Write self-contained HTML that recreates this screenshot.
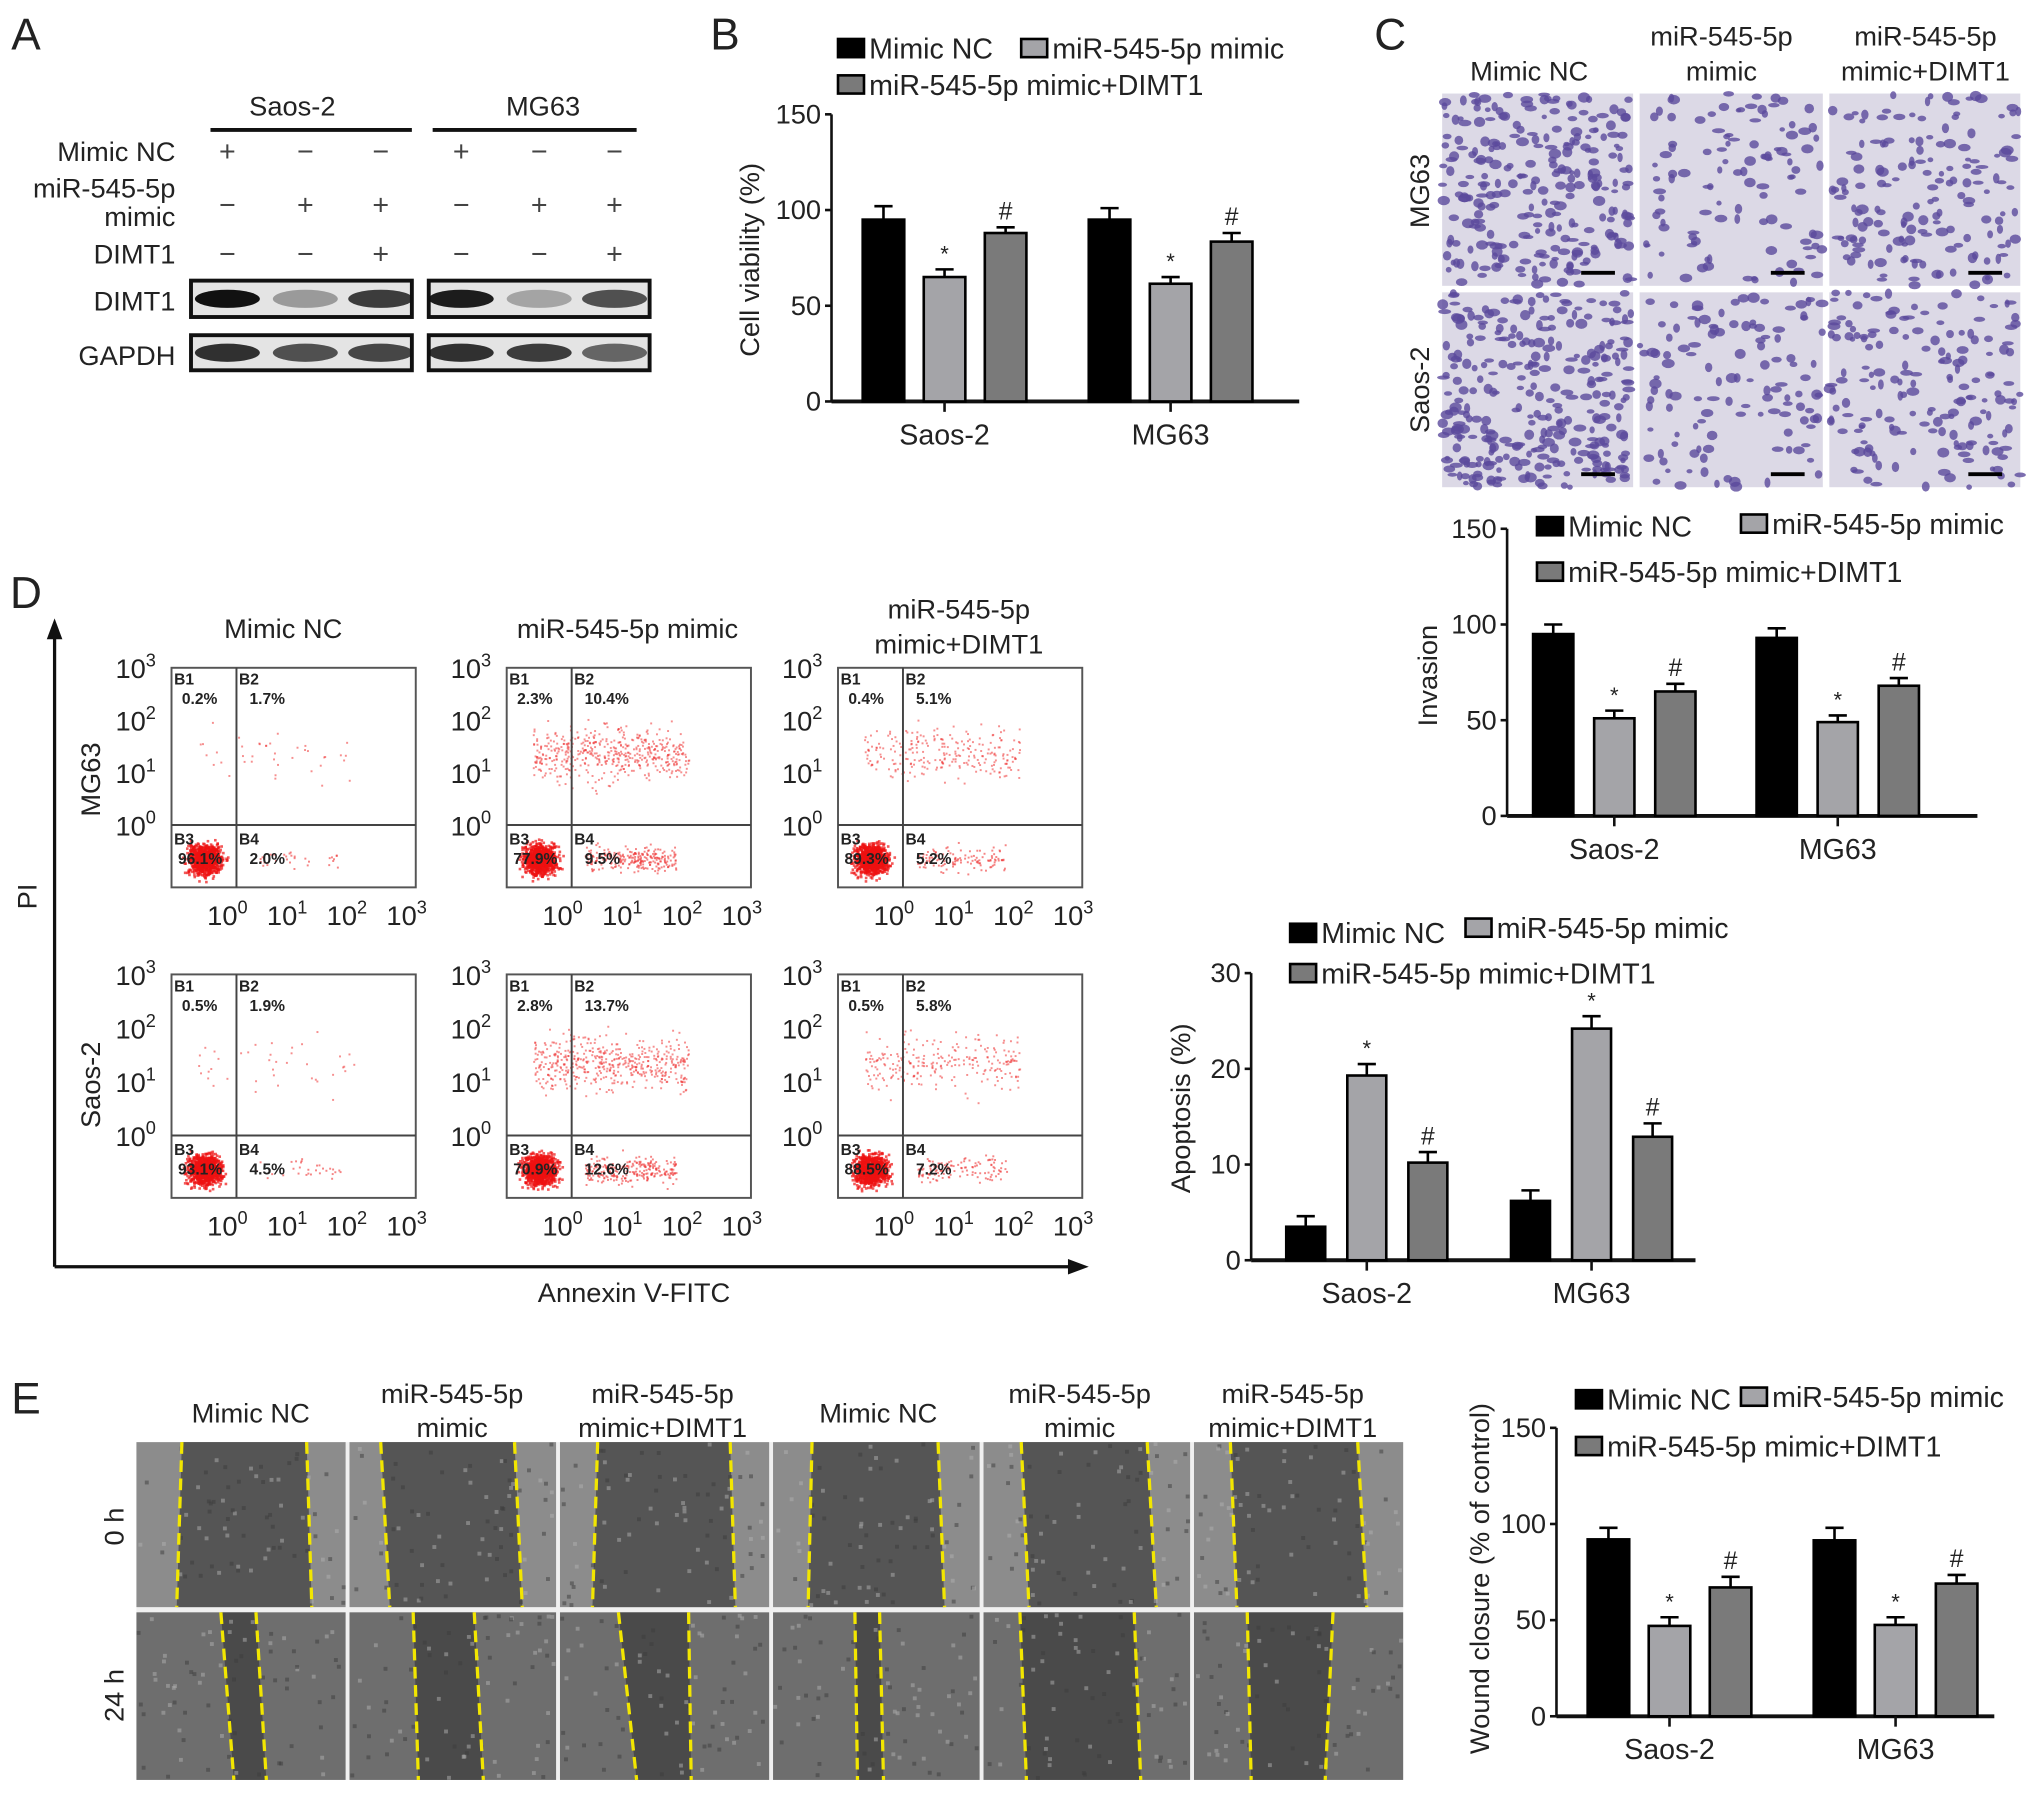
<!DOCTYPE html>
<html><head><meta charset="utf-8"><style>
html,body{margin:0;padding:0;background:#fff;}
svg{display:block;font-family:"Liberation Sans",Arial,sans-serif;}
</style></head><body>
<svg id="fig" width="2032" height="1795" viewBox="0 0 1564 1381.6" xmlns="http://www.w3.org/2000/svg">
<g id="root"></g>
</svg>
<script>
// ---- Chart data ----
const groups = ["Saos-2", "MG63"];
const seriesNames = ["Mimic NC", "miR-545-5p mimic", "miR-545-5p mimic+DIMT1"];
const viabilityVals = [[95, 65, 88], [95, 61.5, 83.5]];
const viabilityErr = [[7, 4, 3], [6, 3.5, 4.5]];
const invasionVals = [[95, 51, 65], [93, 49, 68]];
const invasionErr = [[5, 4, 4], [5, 3.5, 4]];
const apoptosisVals = [[3.5, 19.3, 10.2], [6.2, 24.2, 12.9]];
const apoptosisErr = [[1.1, 1.2, 1.1], [1.1, 1.3, 1.4]];
const woundVals = [[92, 47, 67], [91.5, 47.5, 69]];
const woundErr = [[6, 4.5, 5.5], [6.5, 4, 4.5]];
const ticks150 = [0, 50, 100, 150];
const ticks30 = [0, 10, 20, 30];
const flowLabels = [
  ["0.2%","1.7%","96.1%","2.0%"],["2.3%","10.4%","77.9%","9.5%"],["0.4%","5.1%","89.3%","5.2%"],
  ["0.5%","1.9%","93.1%","4.5%"],["2.8%","13.7%","70.9%","12.6%"],["0.5%","5.8%","88.5%","7.2%"]
];
const fills = ["#000000", "#a4a4a8", "#7a7a7a"];

const NS = "http://www.w3.org/2000/svg";
const root = document.getElementById("root");
function el(tag, attrs, parent, txt){
  const e = document.createElementNS(NS, tag);
  for (const k in attrs) e.setAttribute(k, attrs[k]);
  if (txt !== undefined) e.textContent = txt;
  (parent || root).appendChild(e);
  return e;
}
function text(x,y,s,size,anchor,parent,extra){
  const t = el("text", Object.assign({x:x,y:y,"font-size":size||21,"text-anchor":anchor||"middle",fill:"#222"}, extra||{}), parent, s);
  return t;
}
// seeded RNG for photo textures only
let seed = 12345;
function rnd(){ seed = (seed*1103515245+12345) % 2147483648; return seed/2147483648; }
function gauss(){ return (rnd()+rnd()+rnd()+rnd()-2)/1.2; }

// ---- Panel letters ----
[["A",20,38],["B",558,38],["C",1070,38],["D",20,468],["E",20,1088]].forEach(p=>{
  const t = text(p[1],p[2],p[0],34,"middle");
  
  
});

// ---- Bar chart ----
function barChart(cfg){
  const g = el("g", {});
  
  
  const y = v => cfg.y0 - (v - 0) * (cfg.y0 - cfg.yTop) / cfg.max;
  // legend
  cfg.legend.forEach((L,i)=>{
    const lg = el("g", {}, g);
    
    
    el("rect", {x:L[0], y:L[1]-8, width:20, height:14, fill:fills[i], stroke:"#000","stroke-width":2}, lg);
    text(L[0]+24, L[1]+7, seriesNames[i], 22, "start", lg);
  });
  // axes
  const ax = el("line", {x1:cfg.x0, y1:cfg.yTop, x2:cfg.x0, y2:cfg.y0, stroke:"#111","stroke-width":2}, g);
  
  
  const bx = el("line", {x1:cfg.x0, y1:cfg.y0, x2:cfg.xEnd, y2:cfg.y0, stroke:"#111","stroke-width":3}, g);
  
  
  cfg.ticks.forEach(t=>{
    el("line", {x1:cfg.x0-5, y1:y(t), x2:cfg.x0, y2:y(t), stroke:"#111","stroke-width":2}, g);
    const tl = text(cfg.x0-8, y(t)+7, String(t), 21, "end", g);
    
    
  });
  const yt = text(0,0,cfg.ytitle,21,"middle",g,{transform:`translate(${cfg.ytx},${cfg.yty}) rotate(-90)`});
  
  
  groups.forEach((gname,gi)=>{
    const gx = cfg.gStart + gi*cfg.gGap;
    cfg.vals[gi].forEach((v,si)=>{
      const bxp = gx + si*cfg.bStep;
      const top = y(v);
      const r = el("rect", {x:bxp, y:top, width:cfg.bw, height:cfg.y0-top, fill:fills[si], stroke:"#000","stroke-width":2}, g);
      
      
      const et = y(v + cfg.err[gi][si]);
      const cx = bxp + cfg.bw/2;
      el("line", {x1:cx, y1:top, x2:cx, y2:et, stroke:"#000","stroke-width":2}, g);
      el("line", {x1:cx-7, y1:et, x2:cx+7, y2:et, stroke:"#000","stroke-width":2}, g);
      if (si===1) text(cx, et-6, "*", 17, "middle", g);
      if (si===2) text(cx, et-6, "#", 19, "middle", g);
    });
    const cx = gx + cfg.bStep + cfg.bw/2;
    el("line", {x1:cx, y1:cfg.y0, x2:cx, y2:cfg.y0+8, stroke:"#111","stroke-width":2}, g);
    const xl = text(cx, cfg.y0+33, gname, 22, "middle", g);
    
    
  });
}
barChart({name:"viability-chart", vals:viabilityVals, err:viabilityErr, max:150, ticks:ticks150,
  x0:640, xEnd:1000, y0:309, yTop:88, gStart:664, gGap:174, bStep:47, bw:32,
  legend:[[645,38],[786,38],[645,66]], ytitle:"Cell viability (%)", ytx:584, yty:200});
barChart({name:"invasion-chart", vals:invasionVals, err:invasionErr, max:150, ticks:ticks150,
  x0:1160, xEnd:1522, y0:628, yTop:407, gStart:1180, gGap:172, bStep:47, bw:31,
  legend:[[1183,406],[1340,404],[1183,441]], ytitle:"Invasion", ytx:1106, yty:520});
barChart({name:"apoptosis-chart", vals:apoptosisVals, err:apoptosisErr, max:30, ticks:ticks30,
  x0:963, xEnd:1305, y0:970, yTop:749, gStart:990, gGap:173, bStep:47, bw:30,
  legend:[[993,719],[1128,715],[993,750]], ytitle:"Apoptosis (%)", ytx:916, yty:853});
barChart({name:"wound-closure-chart", vals:woundVals, err:woundErr, max:150, ticks:ticks150,
  x0:1198, xEnd:1535, y0:1321, yTop:1099, gStart:1222, gGap:174, bStep:47, bw:32,
  legend:[[1213,1078],[1340,1076],[1213,1114]], ytitle:"Wound closure (% of control)", ytx:1146, yty:1215});

// ---- Panel A: western blot ----
(function(){
  const g = el("g", {});
  
  
  text(225,89,"Saos-2",21,"middle",g); text(418,89,"MG63",21,"middle",g);
  el("line",{x1:162,y1:100,x2:317,y2:100,stroke:"#111","stroke-width":3},g);
  el("line",{x1:333,y1:100,x2:490,y2:100,stroke:"#111","stroke-width":3},g);
  text(135,124,"Mimic NC",21,"end",g);
  text(135,152,"miR-545-5p",21,"end",g); text(135,174,"mimic",21,"end",g);
  text(135,203,"DIMT1",21,"end",g);
  text(135,239,"DIMT1",21,"end",g); text(135,281,"GAPDH",21,"end",g);
  const cols=[175,235,293,355,415,473];
  const signs=[["+","−","−","+","−","−"],["−","+","+","−","+","+"],["−","−","+","−","−","+"]];
  const rows=[124,165,203];
  signs.forEach((r,ri)=>r.forEach((s,ci)=>text(cols[ci],rows[ri],s,22,"middle",g,{fill:"#444"})));
  const inten=[[1,0.35,0.8,0.95,0.3,0.7],[0.85,0.7,0.75,0.85,0.8,0.6]];
  [[216,244],[258,285]].forEach((b,bi)=>{
    [[147,317],[330,500]].forEach((bb,k)=>{
      el("rect",{x:bb[0],y:b[0],width:bb[1]-bb[0],height:b[1]-b[0],fill:"#e4e4e4",stroke:"#111","stroke-width":3},g);
      for(let j=0;j<3;j++){
        const ci=k*3+j, a=inten[bi][ci];
        el("ellipse",{cx:cols[ci],cy:(b[0]+b[1])/2,rx:25,ry:7,fill:"#111","fill-opacity":a},g);
      }
    });
  });
})();

// ---- Panel C: invasion images ----
(function(){
  const g = el("g", {});
  
  
  [[1177,["Mimic NC"]],[1325,["miR-545-5p","mimic"]],[1482,["miR-545-5p","mimic+DIMT1"]]].forEach(h=>{
    if(h[1].length===1) text(h[0],62,h[1][0],21,"middle",g);
    else { text(h[0],35,h[1][0],21,"middle",g); text(h[0],62,h[1][1],21,"middle",g); }
  });
  text(0,0,"MG63",21,"middle",g,{transform:"translate(1100,147) rotate(-90)"});
  text(0,0,"Saos-2",21,"middle",g,{transform:"translate(1100,300) rotate(-90)"});
  const xs=[[1110,1257],[1262,1403],[1408,1555]], ys=[[72,220],[225,375]];
  const dens=[[260,110,160],[300,120,170]];
  ys.forEach((yy,ri)=>xs.forEach((xx,ci)=>{
    el("rect",{x:xx[0],y:yy[0],width:xx[1]-xx[0],height:yy[1]-yy[0],fill:"#dcd9e6"},g);
    for(let i=0;i<dens[ri][ci];i++){
      el("ellipse",{cx:xx[0]+rnd()*(xx[1]-xx[0]),cy:yy[0]+rnd()*(yy[1]-yy[0]),rx:2+rnd()*3,ry:1.5+rnd()*2.5,fill:"#5b4a9c","fill-opacity":0.8},g);
    }
    el("line",{x1:xx[1]-40,y1:yy[1]-10,x2:xx[1]-14,y2:yy[1]-10,stroke:"#000","stroke-width":3},g);
  }));
})();

// ---- Panel D: flow cytometry ----
(function(){
  const g = el("g", {});
  
  
  text(218,491,"Mimic NC",21,"middle",g);
  text(483,491,"miR-545-5p mimic",21,"middle",g);
  text(738,476,"miR-545-5p",21,"middle",g); text(738,503,"mimic+DIMT1",21,"middle",g);
  text(0,0,"MG63",21,"middle",g,{transform:"translate(77,600) rotate(-90)"});
  text(0,0,"Saos-2",21,"middle",g,{transform:"translate(77,835) rotate(-90)"});
  text(0,0,"PI",21,"middle",g,{transform:"translate(28,690) rotate(-90)"});
  text(488,1002,"Annexin V-FITC",21,"middle",g);
  el("line",{x1:42,y1:975,x2:42,y2:488,stroke:"#111","stroke-width":2.5},g);
  el("polygon",{points:"42,476 36,492 48,492",fill:"#111"},g);
  el("line",{x1:42,y1:975,x2:825,y2:975,stroke:"#111","stroke-width":2.5},g);
  el("polygon",{points:"838,975 822,969 822,981",fill:"#111"},g);
  const bxs=[132,390,645], bys=[[514,683,635],[750,922,874]];
  const tickLbl=["10","10","10","10"];
  let idx=0;
  bys.forEach((by,ri)=>bxs.forEach((bx,ci)=>{
    const w=188, qx=bx+50, lab=flowLabels[idx++];
    const pg=el("g",{},g);
    
    
    el("rect",{x:bx,y:by[0],width:w,height:by[1]-by[0],fill:"#fff",stroke:"#555","stroke-width":1.5},pg);
    // dots
    const nMain = 900, nUp = ci===0?40:(ci===1?500:250), nRight= ci===0?30:(ci===1?250:120);
    for(let i=0;i<nMain;i++){
      const x=bx+25+gauss()*13, y=by[1]-22+gauss()*12;
      if(x>bx && y<by[1] && y>by[2]-5) el("rect",{x:x,y:y,width:2,height:2,fill:"#ee1111","fill-opacity":0.7},pg);
    }
    for(let i=0;i<nUp;i++){
      const x=bx+20+rnd()*120, y=by[2]-55+gauss()*22;
      el("rect",{x:x,y:y,width:1.5,height:1.5,fill:"#ee3333","fill-opacity":0.55},pg);
    }
    for(let i=0;i<nRight;i++){
      const x=qx+10+rnd()*70, y=by[1]-22+gauss()*10;
      if(y<by[1]) el("rect",{x:x,y:y,width:1.5,height:1.5,fill:"#ee3333","fill-opacity":0.6},pg);
    }
    el("line",{x1:qx,y1:by[0],x2:qx,y2:by[1],stroke:"#444","stroke-width":1.5},pg);
    el("line",{x1:bx,y1:by[2],x2:bx+w,y2:by[2],stroke:"#444","stroke-width":1.5},pg);
    text(bx+2,by[0]+13,"B1",12,"start",pg,{"font-weight":"bold"});
    text(qx+2,by[0]+13,"B2",12,"start",pg,{"font-weight":"bold"});
    text(bx+8,by[0]+28,lab[0],12,"start",pg,{"font-weight":"bold"});
    text(qx+10,by[0]+28,lab[1],12,"start",pg,{"font-weight":"bold"});
    text(bx+2,by[2]+15,"B3",12,"start",pg,{"font-weight":"bold"});
    text(qx+2,by[2]+15,"B4",12,"start",pg,{"font-weight":"bold"});
    text(bx+5,by[2]+30,lab[2],12,"start",pg,{"font-weight":"bold"});
    text(qx+10,by[2]+30,lab[3],12,"start",pg,{"font-weight":"bold"});
    // y ticks
    const yts=[by[0],by[0]+(by[2]-by[0])/3,by[0]+2*(by[2]-by[0])/3,by[2]];
    [3,2,1,0].forEach((e,k)=>{
      const t=el("text",{x:bx-12,y:yts[k]+8,"font-size":21,"text-anchor":"end",fill:"#222"},pg);
      t.appendChild(document.createTextNode("10"));
      const s=el("tspan",{dy:-9,"font-size":14},t,String(e));
    });
    [0,1,2,3].forEach(e=>{
      const t=el("text",{x:bx+43+e*46,y:by[1]+29,"font-size":21,"text-anchor":"middle",fill:"#222"},pg);
      t.appendChild(document.createTextNode("10"));
      el("tspan",{dy:-9,"font-size":14},t,String(e));
    });
  }));
})();

// ---- Panel E: wound images ----
(function(){
  const g = el("g", {});
  
  
  const hdr=[[193,["Mimic NC"]],[348,["miR-545-5p","mimic"]],[510,["miR-545-5p","mimic+DIMT1"]],[676,["Mimic NC"]],[831,["miR-545-5p","mimic"]],[995,["miR-545-5p","mimic+DIMT1"]]];
  hdr.forEach(h=>{
    if(h[1].length===1) text(h[0],1095,h[1][0],21,"middle",g);
    else { text(h[0],1080,h[1][0],21,"middle",g); text(h[0],1106,h[1][1],21,"middle",g); }
  });
  text(0,0,"0 h",21,"middle",g,{transform:"translate(95,1175) rotate(-90)"});
  text(0,0,"24 h",21,"middle",g,{transform:"translate(95,1305) rotate(-90)"});
  el("rect",{x:105,y:1110,width:975,height:260,fill:"#f0f0f0"},g);
  const xs=[[105,266],[269,428],[431,592],[595,754],[757,916],[919,1080]];
  const ys=[[1110,1237],[1241,1370]];
  const lines0=[[[140,136],[236,240]],[[293,300],[396,402]],[[460,456],[562,566]],[[625,622],[722,727]],[[786,792],[883,890]],[[947,952],[1045,1052]]];
  const lines24=[[[170,180],[197,205]],[[318,322],[365,372]],[[476,490],[530,532]],[[658,660],[677,680]],[[785,790],[873,878]],[[960,963],[1026,1020]]];
  ys.forEach((yy,ri)=>xs.forEach((xx,ci)=>{
    const L = ri===0?lines0[ci]:lines24[ci];
    el("rect",{x:xx[0],y:yy[0],width:xx[1]-xx[0],height:yy[1]-yy[0],fill:ri===0?"#8c8c8c":"#6e6e6e"},g);
    el("polygon",{points:`${L[0][0]},${yy[0]} ${L[1][0]},${yy[0]} ${L[1][1]},${yy[1]} ${L[0][1]},${yy[1]}`,fill:ri===0?"#555":"#4a4a4a"},g);
    for(let i=0;i<70;i++){
      el("rect",{x:xx[0]+rnd()*(xx[1]-xx[0]-3),y:yy[0]+rnd()*(yy[1]-yy[0]-3),width:3,height:3,fill:rnd()<0.5?"#b0b0b0":"#3c3c3c","fill-opacity":0.5},g);
    }
    L.forEach(l=>el("line",{x1:l[0],y1:yy[0],x2:l[1],y2:yy[1],stroke:"#f2e600","stroke-width":2.5,"stroke-dasharray":"9 5"},g));
  }));
})();
</script>
</body></html>
